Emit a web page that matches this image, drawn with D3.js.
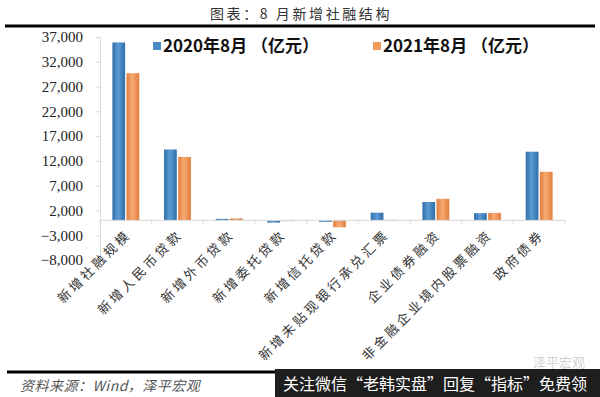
<!DOCTYPE html>
<html>
<head>
<meta charset="utf-8">
<script src="https://cdn.jsdelivr.net/npm/d3@7"></script>
<style>
  body { margin: 0; background: #fff; }
  svg { display: block; }
</style>
</head>
<body>
<div id="chart"></div>
<script>
const categories = ["新增社融规模", "新增人民币贷款", "新增外币贷款", "新增委托贷款", "新增信托贷款",
    "新增未贴现银行承兑汇票", "企业债券融资", "非金融企业境内股票融资", "政府债券"];
const seriesNames = ["2020年8月 （亿元）", "2021年8月 （亿元）"];
const values2020 = [35900, 14300, 300, -450, -300, 1550, 3700, 1450, 13850];
const values2021 = [29700, 12800, 400, -50, -1400, 100, 4350, 1500, 9800];
const yTicks = [-8000, -3000, 2000, 7000, 12000, 17000, 22000, 27000, 32000, 37000];

const width = 600, height = 397;
const cjk = "'Noto Sans CJK SC', sans-serif";

const svg = d3.select("#chart").append("svg")
    .attr("width", width)
    .attr("height", height);

// gradients, bars look slightly shaded at the edges
const defs = svg.append("defs");
[["gBlue", "#2f6ea8", "#5b9bd5"], ["gOrange", "#e27d3c", "#f6ab74"]].forEach(([id, edge, mid]) => {
    const g = defs.append("linearGradient").attr("id", id).attr("x1", "0").attr("x2", "1");
    g.append("stop").attr("offset", "0%").attr("stop-color", edge);
    g.append("stop").attr("offset", "45%").attr("stop-color", mid);
    g.append("stop").attr("offset", "100%").attr("stop-color", edge);
});
const fills = ["url(#gBlue)", "url(#gOrange)"];
const swatch = ["#4a8ac6", "#f29a5c"];

// title + rules
svg.append("text")
    .attr("x", 301).attr("y", 19)
    .attr("text-anchor", "middle")
    .style("font-family", cjk)
    .style("font-size", "14px")
    .style("letter-spacing", "2.6px")
    .style("fill", "#333")
    .text("图表：8 月新增社融结构");

svg.append("line")
    .attr("x1", 5).attr("x2", 595).attr("y1", 26).attr("y2", 26)
    .attr("stroke", "#000").attr("stroke-width", 3);

const x0 = d3.scaleBand()
    .domain(categories)
    .range([100, 565])
    .paddingInner(0.48)
    .paddingOuter(0.24);

const x1 = d3.scaleBand()
    .domain(seriesNames)
    .range([0, x0.bandwidth()])
    .paddingInner(0.1);

const y = d3.scaleLinear()
    .domain([-8000, 37000])
    .range([260, 37]);

// y axis
const yAxis = svg.append("g")
    .attr("transform", "translate(100,0)")
    .call(d3.axisLeft(y).tickValues(yTicks).tickSize(4).tickPadding(13).tickFormat(d3.format(",")));
yAxis.select(".domain").attr("stroke", "#d9d9d9");
yAxis.selectAll(".tick line").attr("stroke", "#d9d9d9");
yAxis.selectAll("text")
    .style("font-family", "'Liberation Serif', serif")
    .style("font-size", "15px")
    .style("fill", "#222");

// bars
const rows = categories.map((c, i) => ({ cat: c, vals: [values2020[i], values2021[i]] }));
const groups = svg.selectAll("g.grp")
    .data(rows)
    .enter().append("g")
    .attr("class", "grp")
    .attr("transform", d => `translate(${x0(d.cat)},0)`);

groups.selectAll("rect")
    .data(d => d.vals.map((v, k) => ({ v, k })))
    .enter().append("rect")
    .attr("x", d => x1(seriesNames[d.k]))
    .attr("width", x1.bandwidth())
    .attr("y", d => y(Math.max(0, d.v)))
    .attr("height", d => Math.max(0.8, Math.abs(y(d.v) - y(0))))
    .attr("fill", d => fills[d.k]);

// x axis at zero
const xAxis = svg.append("g")
    .attr("transform", `translate(0,${y(0)})`);
xAxis.append("line")
    .attr("x1", 100).attr("x2", 565)
    .attr("stroke", "#d9d9d9");
xAxis.selectAll("line.tk")
    .data(d3.range(categories.length + 1))
    .enter().append("line")
    .attr("class", "tk")
    .attr("x1", i => 100 + i * x0.step())
    .attr("x2", i => 100 + i * x0.step())
    .attr("y1", 0).attr("y2", 4)
    .attr("stroke", "#d9d9d9");

// category labels, rotated
svg.selectAll("text.cat")
    .data(categories)
    .enter().append("text")
    .attr("class", "cat")
    .attr("transform", d => `translate(${x0(d) + x0.bandwidth() / 2 + 6},${y(0) + 15}) rotate(-45)`)
    .attr("text-anchor", "end")
    .style("font-family", cjk)
    .style("font-size", "13px")
    .style("letter-spacing", "3.2px")
    .style("fill", "#333")
    .text(d => d);

// legend
const legend = svg.append("g");
const legendX = [153, 373];
seriesNames.forEach((s, k) => {
    legend.append("rect")
        .attr("x", legendX[k]).attr("y", 42)
        .attr("width", 8).attr("height", 8)
        .attr("fill", swatch[k]);
    legend.append("text")
        .attr("x", legendX[k] + 10).attr("y", 52)
        .style("font-family", cjk)
        .style("font-size", "17px")
        .style("font-weight", "bold")
        .style("fill", "#111")
        .text(s);
});

// footer
svg.append("line")
    .attr("x1", 7).attr("x2", 276).attr("y1", 372).attr("y2", 372)
    .attr("stroke", "#000").attr("stroke-width", 3);

svg.append("text")
    .attr("x", 20).attr("y", 391)
    .style("font-family", cjk)
    .style("font-size", "14px")
    .style("font-style", "italic")
    .style("letter-spacing", "0.5px")
    .style("fill", "#555")
    .text("资料来源：Wind，泽平宏观");

svg.append("text")
    .attr("x", 585).attr("y", 367)
    .attr("text-anchor", "end")
    .style("font-family", cjk)
    .style("font-size", "13px")
    .style("fill", "#d2d2d2")
    .text("泽平宏观");

svg.append("rect")
    .attr("x", 275).attr("y", 369)
    .attr("width", 325).attr("height", 28)
    .attr("fill", "#1e1e1e");

svg.append("text")
    .attr("x", 283).attr("y", 390)
    .style("font-family", cjk)
    .style("font-size", "16px")
    .style("fill", "#fff")
    .text("关注微信“老韩实盘”回复“指标”免费领");
</script>
</body>
</html>
